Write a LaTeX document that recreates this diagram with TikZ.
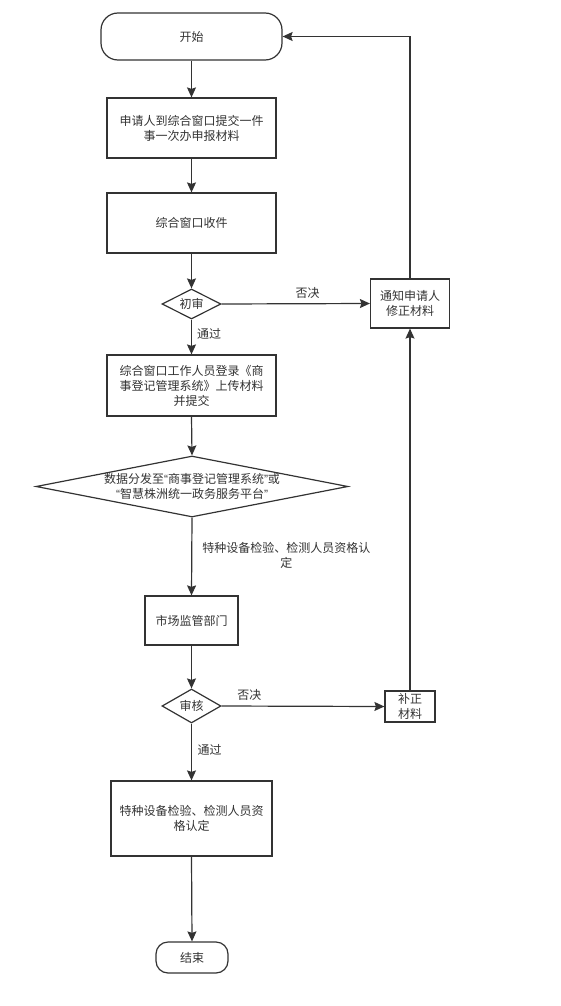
\documentclass[tikz,border=0pt]{standalone}
\usepackage{fontspec}
\setmainfont{Noto Sans CJK SC}
\newfontfamily\latq{Liberation Sans}
\usetikzlibrary{arrows.meta,shapes.geometric}
\definecolor{ln}{HTML}{333333}
\definecolor{tx}{HTML}{333333}
\newcommand{\oq}{{\latq “}}
\newcommand{\cq}{{\latq ”}}
\begin{document}
\begin{tikzpicture}[x=1pt,y=-1pt,
  font=\fontsize{12}{15}\selectfont,
  box/.style={draw=ln, line width=1.2pt, fill=white, text=tx, align=center, inner sep=0pt},
  term/.style={box, rounded corners=#1},
  dia/.style={box, diamond},
  arr/.style={draw=ln, line width=1.2pt, -{Stealth[length=10pt,width=9pt,inset=1.5pt]}},
  lab/.style={text=tx, inner sep=0pt, align=center}
]
\useasboundingbox[fill=white] (0,0) rectangle (560,1006);

\node[term=17pt, minimum width=181pt, minimum height=47pt] (start) at (191.5,36.5) {开始};
\node[box, minimum width=169pt, minimum height=60pt] (b1) at (191.5,128) {申请人到综合窗口提交一件\\事一次办申报材料};
\node[box, minimum width=169pt, minimum height=60pt] (b2) at (191.5,223) {综合窗口收件};
\node[dia, minimum width=59pt, minimum height=30pt, aspect=2] (d1) at (191.5,304) {初审};
\node[box, minimum width=79pt, minimum height=49pt] (notify) at (410,303.5) {通知申请人\\修正材料};
\node[box, minimum width=169pt, minimum height=61pt] (b3) at (191.5,385.5) {综合窗口工作人员登录《商\\事登记管理系统》上传材料\\并提交};
\node[dia, minimum width=312pt, minimum height=61pt, aspect=5.1] (d2) at (192,486.5) {数据分发至\oq 商事登记管理系统\cq 或\\\oq 智慧株洲统一政务服务平台\cq};
\node[box, minimum width=93pt, minimum height=49pt] (market) at (191.5,620.5) {市场监管部门};
\node[dia, minimum width=59pt, minimum height=34pt, aspect=1.75] (d3) at (191.5,706) {审核};
\node[box, minimum width=50pt, minimum height=31pt] (fix) at (410,706.5) {补正\\材料};
\node[box, minimum width=161pt, minimum height=75pt] (b5) at (191.5,818.5) {特种设备检验、检测人员资\\格认定};
\node[term=12pt, minimum width=72pt, minimum height=31pt] (end) at (192,957.5) {结束};

\draw[arr] (start.south) -- (b1.north);
\draw[arr] (b1.south) -- (b2.north);
\draw[arr] (b2.south) -- (d1.north);
\draw[arr] (d1.south) -- node[lab, pos=0.42, xshift=17.5pt] {通过} (b3.north);
\draw[arr] (d1.east) -- node[lab, pos=0.58, yshift=11pt] {否决} (notify.west);
\draw[arr] (b3.south) -- (d2.north);
\draw[arr] (d2.south) -- node[lab, pos=0.48, xshift=94.5pt] {特种设备检验、检测人员资格认\\定} (market.north);
\draw[arr] (market.south) -- (d3.north);
\draw[arr] (d3.south) -- node[lab, pos=0.47, xshift=18pt] {通过} (b5.north);
\draw[arr] (d3.east) -- node[lab, pos=0.17, yshift=11pt] {否决} (fix.west);
\draw[arr] (b5.south) -- (end.north);
\draw[arr] (fix.north) -- (notify.south);
\draw[arr] (notify.north) |- (start.east);
\end{tikzpicture}
\end{document}
